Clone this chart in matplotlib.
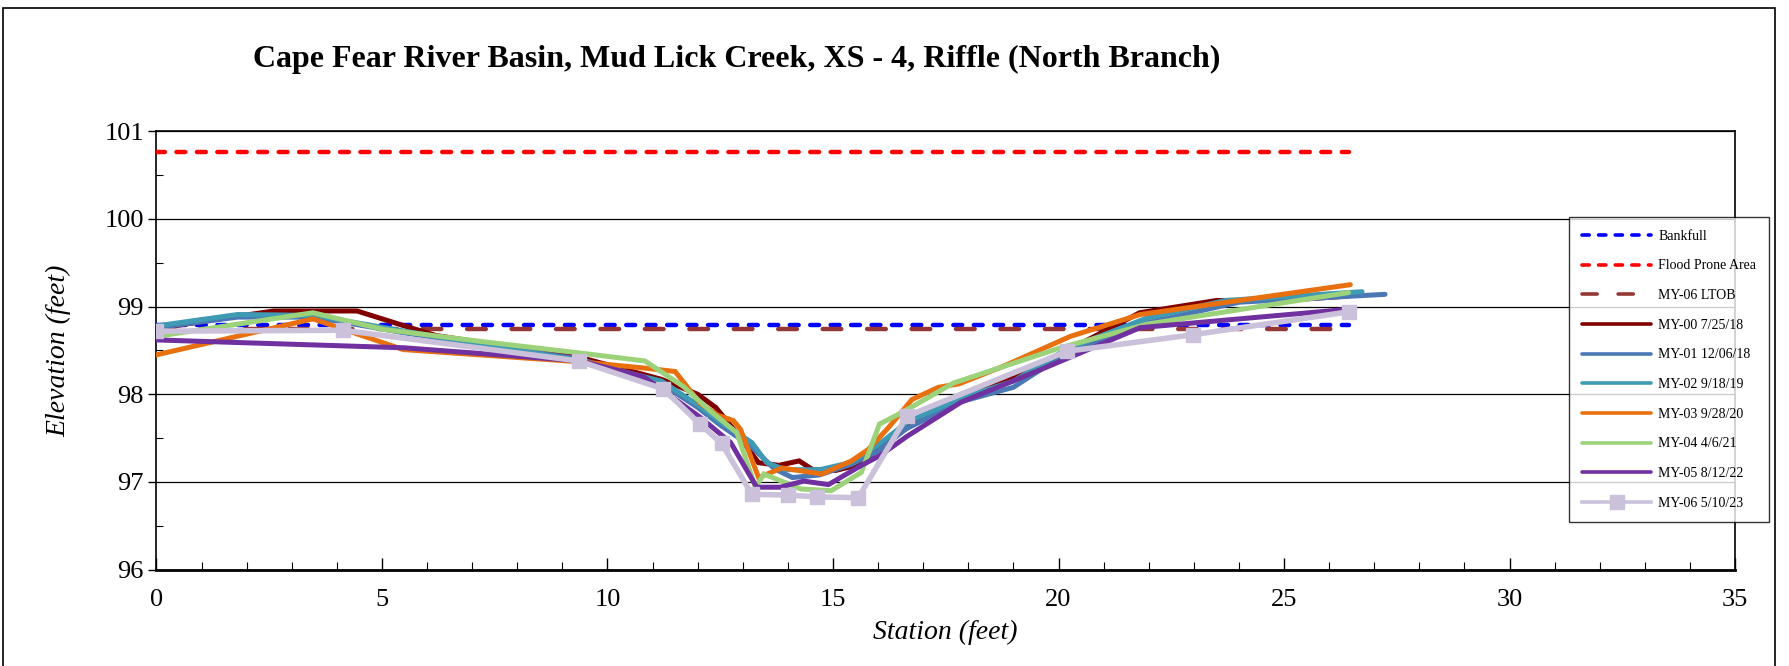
import matplotlib
matplotlib.use("Agg")
import matplotlib.pyplot as plt
from matplotlib.patches import Rectangle
from matplotlib.ticker import MultipleLocator

plt.rcParams['font.family'] = ['Liberation Serif', 'DejaVu Serif']

# ---------------- data ----------------
title = "Cape Fear River Basin, Mud Lick Creek, XS - 4, Riffle (North Branch)"

bankfull_x = [0, 26.43]
bankfull_y = [98.79, 98.79]
flood_x = [0, 26.43]
flood_y = [100.76, 100.76]
ltob_x = [0, 26.43]
ltob_y = [98.74, 98.74]

my00_x = [0, 1.8, 2.6, 4.45, 5.5, 6.2, 9.4, 11.2, 12.0, 12.4, 12.8, 13.35, 13.8, 14.25,
          14.55, 15.05, 15.6, 16.2, 17.0, 18.0, 19.2, 20.2, 21.8, 23.5, 25.0, 26.4]
my00_y = [98.75, 98.89, 98.95, 98.95, 98.78, 98.67, 98.42, 98.17, 98.0, 97.85, 97.6, 97.22,
          97.19, 97.24, 97.14, 97.13, 97.2, 97.45, 97.75, 98.0, 98.25, 98.5, 98.93, 99.07,
          99.07, 99.12]

my01_x = [0, 1.8, 3.5, 5.5, 9.4, 11.2, 12.0, 12.5, 13.2, 13.7, 14.1, 14.7, 15.4, 16.0, 16.6,
          17.8, 19.0, 20.2, 22.0, 24.0, 27.24]
my01_y = [98.76, 98.88, 98.88, 98.7, 98.4, 98.12, 97.85, 97.65, 97.4, 97.15, 97.05, 97.08,
          97.2, 97.35, 97.6, 97.91, 98.08, 98.48, 98.82, 99.05, 99.14]

my02_x = [0, 1.8, 3.5, 5.5, 9.4, 11.2, 12.0, 12.6, 13.2, 13.53, 13.94, 14.71, 15.38, 15.97,
          16.64, 17.8, 19.0, 20.2, 21.96, 23.7, 26.73]
my02_y = [98.78, 98.91, 98.9, 98.72, 98.38, 98.15, 97.88, 97.65, 97.45, 97.22, 97.14, 97.14,
          97.22, 97.41, 97.68, 97.95, 98.15, 98.52, 98.87, 99.07, 99.17]

my03_x = [0, 3.47, 5.47, 9.4, 10.8, 11.5, 12.05, 12.45, 12.79, 12.95, 13.35, 13.87, 14.75,
          15.41, 15.78, 16.23, 16.75, 17.34, 17.8, 18.78, 20.26, 21.81, 26.47]
my03_y = [98.45, 98.86, 98.51, 98.37, 98.3, 98.26, 97.9, 97.76, 97.70, 97.6, 97.05, 97.16,
          97.09, 97.24, 97.37, 97.62, 97.94, 98.08, 98.12, 98.32, 98.66, 98.91, 99.25]

my04_x = [0, 3.47, 5.03, 7.24, 9.4, 10.83, 11.68, 12.3, 12.87, 13.28, 13.47, 14.29, 14.96,
          15.63, 16.03, 16.52, 17.68, 20.04, 21.96, 26.43]
my04_y = [98.66, 98.93, 98.74, 98.6, 98.47, 98.38, 98.09, 97.8, 97.56, 96.94, 97.09, 96.92,
          96.9, 97.11, 97.66, 97.79, 98.13, 98.53, 98.80, 99.16]

my05_x = [0, 5.5, 9.4, 10.8, 11.24, 12.05, 12.73, 13.31, 13.83, 14.35, 14.9, 15.6, 16.04,
          16.64, 17.84, 19.6, 21.81, 26.43]
my05_y = [98.62, 98.53, 98.38, 98.2, 98.04, 97.74, 97.45, 96.94, 96.94, 97.01, 96.97, 97.18,
          97.3, 97.52, 97.91, 98.28, 98.76, 98.97]

my06_x = [0, 4.14, 9.36, 11.24, 12.05, 12.53, 13.2, 14.01, 14.64, 15.56, 16.64, 20.18,
          22.99, 26.43]
my06_y = [98.72, 98.73, 98.38, 98.06, 97.66, 97.44, 96.86, 96.85, 96.83, 96.82, 97.75,
          98.49, 98.68, 98.94]

labels = ["Bankfull", "Flood Prone Area", "MY-06 LTOB", "MY-00 7/25/18", "MY-01 12/06/18",
          "MY-02 9/18/19", "MY-03 9/28/20", "MY-04 4/6/21", "MY-05 8/12/22", "MY-06 5/10/23"]

# ---------------- figure ----------------
fig = plt.figure(figsize=(17.9, 6.66), dpi=100)
ax = fig.add_axes([0.0874, 0.1447, 0.9693 - 0.0874, 0.8029 - 0.1447])

lw = 3.6
ax.plot(bankfull_x, bankfull_y, color='#0000FF', lw=3.2, linestyle=(0, (2.0, 2.6)),
        dash_capstyle='round', label=labels[0], zorder=3)
ax.plot(flood_x, flood_y, color='#FF0000', lw=3.2, linestyle=(0, (2.0, 2.6)),
        dash_capstyle='round', label=labels[1], zorder=3)
ax.plot(ltob_x, ltob_y, color='#953735', lw=3.2, linestyle=(0, (4.2, 5.8)),
        dash_capstyle='round', label=labels[2], zorder=3)

series = [(my00_x, my00_y, '#800000'), (my01_x, my01_y, '#4A78B5'),
          (my02_x, my02_y, '#3F9AB4'), (my03_x, my03_y, '#E8700E'),
          (my04_x, my04_y, '#9CD27A'), (my05_x, my05_y, '#7030A0')]
for i, (xs, ys, c) in enumerate(series):
    ax.plot(xs, ys, color=c, lw=lw, solid_joinstyle='miter', solid_capstyle='round',
            label=labels[3 + i], zorder=4 + i)
ax.plot(my06_x, my06_y, color='#CCC1DA', lw=4.0, marker='s', markersize=9.5,
        label=labels[9], zorder=11)

ax.set_xlim(0, 35)
ax.set_ylim(96, 101)
ax.xaxis.set_major_locator(MultipleLocator(5))
ax.xaxis.set_minor_locator(MultipleLocator(1))
ax.yaxis.set_major_locator(MultipleLocator(1))
ax.yaxis.set_minor_locator(MultipleLocator(0.5))
ax.grid(True, axis='y', which='major', color='black', lw=0.9, zorder=1)
ax.tick_params(axis='x', which='major', direction='in', length=9, width=1, labelsize=19, pad=14)
ax.tick_params(axis='x', which='minor', direction='in', length=6, width=0.8)
ax.tick_params(axis='y', which='major', direction='out', length=6, width=1, labelsize=19, pad=3)
ax.tick_params(axis='y', which='minor', direction='in', length=5, width=0.8)
for s in ax.spines.values():
    s.set_color('black')
    s.set_linewidth(1.2)
ax.spines['bottom'].set_linewidth(2.0)

ax.set_xlabel("Station (feet)", fontsize=20, style='italic', labelpad=6)
ax.set_ylabel("Elevation (feet)", fontsize=20, style='italic', labelpad=24)

fig.text(0.1413, 0.910, title, fontsize=23, fontweight='bold', ha='left', va='center')

leg = ax.legend(loc='upper left', bbox_to_anchor=(0.8767, 0.6737),
                bbox_transform=fig.transFigure, fontsize=10, frameon=True, fancybox=False,
                edgecolor='black', handlelength=5.0, handletextpad=0.5,
                labelspacing=1.2, borderpad=0.9, borderaxespad=0)
leg.get_frame().set_linewidth(1.0)
for h in leg.get_lines():
    h.set_linewidth(2.6)
leg.set_zorder(20)

# outer chart border
fig.patches.append(Rectangle((3 / 1790, -0.05), (1775 - 3) / 1790, 1.05 - 8 / 666,
                             transform=fig.transFigure, fill=False, edgecolor='black',
                             lw=1.2, clip_on=False))

fig.savefig("out.png", dpi=100)
